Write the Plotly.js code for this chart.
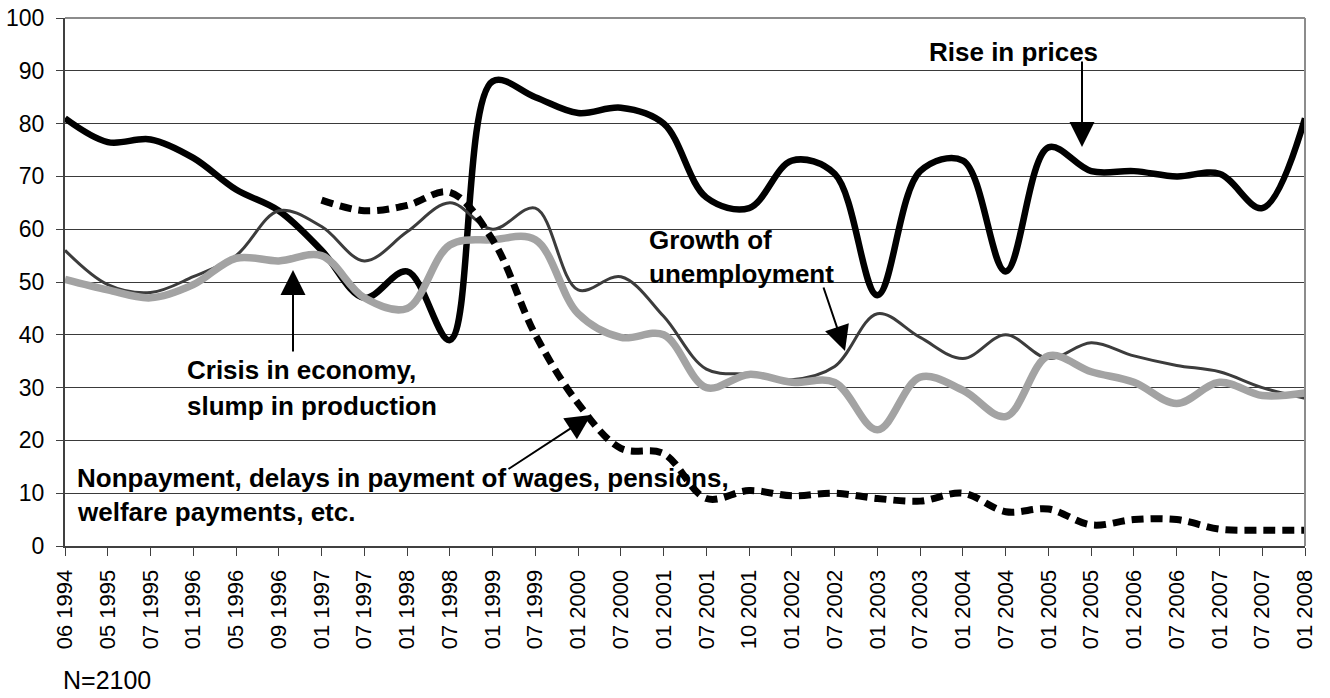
<!DOCTYPE html>
<html><head><meta charset="utf-8">
<script src="https://cdn.plot.ly/plotly-3.0.1.min.js"></script>
<style>html,body{margin:0;padding:0;background:#fff}#chart{width:1330px;height:698px}</style>
</head><body><div id="chart"></div>
<script>
const periods = ["06 1994","05 1995","07 1995","01 1996","05 1996","09 1996","01 1997","07 1997","01 1998","07 1998","01 1999","07 1999","01 2000","07 2000","01 2001","07 2001","10 2001","01 2002","07 2002","01 2003","07 2003","01 2004","07 2004","01 2005","07 2005","01 2006","07 2006","01 2007","07 2007","01 2008"];
const risePrices   = [81,76.5,77,73.5,67.5,63.5,56,47,52,39,88,85,82,83,80,66,64,73,70.5,47.5,71,73,52,75.5,71,71,70,70.5,64,81];
const unemployment = [56,49.5,48,51,55,63.5,60.5,54,59.5,65,60,64,48.5,51,43.5,33.5,32.5,31.5,34,44,39.5,35.5,40,35.5,38.5,36,34.2,33,30,28];
const crisis       = [50.5,48.5,47,49.5,54.5,54,55,47,45,57,58,58,44,39.5,40,30,32.5,31,31,22,32,29.5,24.5,36,33,31,27,31,28.5,29];
const nonpayment   = [null,null,null,null,null,null,65.5,63.5,64.5,67,58,40,27,18.5,17.5,9,10.5,9.5,10,9,8.5,10,6.5,7,4,5,5,3.2,3,3];
const seriesNames = ["Rise in prices","Growth of unemployment","Crisis in economy, slump in production","Nonpayment, delays in payment of wages, pensions, welfare payments, etc."];
const yTicks = [0,10,20,30,40,50,60,70,80,90,100];

const FONT = '"Liberation Sans", Arial, Helvetica, sans-serif';
const L = 65, R = 1305, T = 18, B = 546;
const W = R - L, H = B - T;
const px = x => (x - L) / W;
const py = y => (B - y) / H;
const xi = x => (x - L) / (W / (periods.length - 1));
const yv = y => (B - y) / H * 100;

const traces = [
  {x: periods, y: risePrices, name: seriesNames[0], mode: 'lines', line: {color: '#000000', width: 6.5, shape: 'spline', smoothing: 1}},
  {x: periods, y: unemployment, name: seriesNames[1], mode: 'lines', line: {color: '#3c3c3c', width: 3, shape: 'spline', smoothing: 1}},
  {x: periods, y: crisis, name: seriesNames[2], mode: 'lines', line: {color: '#a3a3a3', width: 7.5, shape: 'spline', smoothing: 1}},
  {x: periods, y: nonpayment, name: seriesNames[3], mode: 'lines', connectgaps: false, line: {color: '#000000', width: 7, dash: '12px,7px', shape: 'spline', smoothing: 1}}
];

function txt(text, x, y, size, bold) {
  return {xref: 'paper', yref: 'paper', x: px(x), y: py(y), xanchor: 'left', yanchor: 'middle',
    text: bold ? '<b>' + text + '</b>' : text, showarrow: false,
    font: {family: FONT, size: size, color: '#000'}};
}
function arrow(x0, y0, x1, y1) {
  return {xref: 'x', yref: 'y', axref: 'x', ayref: 'y', x: xi(x1), y: yv(y1), ax: xi(x0), ay: yv(y0),
    text: '', showarrow: true, arrowhead: 2, arrowsize: 2.5, arrowwidth: 2, arrowcolor: '#000', standoff: 0, startstandoff: 0};
}

const annotations = [
  txt('Rise in prices', 927, 52, 26, true),
  arrow(1082, 60, 1082, 147),
  txt('Growth of', 647, 240, 26, true),
  txt('unemployment', 647, 274, 26, true),
  arrow(823, 286, 845, 351),
  txt('Crisis in economy,', 185, 370, 26, true),
  txt('slump in production', 185, 406, 26, true),
  arrow(293, 353, 293, 270),
  txt('Nonpayment, delays in payment of wages, pensions,', 75, 478, 26, true),
  txt('welfare payments, etc.', 75, 512, 26, true),
  arrow(507, 470, 591, 415),
  txt('N=2100', 61, 680, 25, false)
];

const layout = {
  width: 1330, height: 698,
  margin: {l: L, r: 1330 - R, t: T, b: 698 - B},
  paper_bgcolor: '#fff', plot_bgcolor: '#fff',
  showlegend: false,
  font: {family: FONT, color: '#000'},
  xaxis: {type: 'category', categoryorder: 'array', categoryarray: periods, range: [0, periods.length - 1],
    showgrid: false, zeroline: false, showline: true, linecolor: '#404040', linewidth: 2,
    ticks: 'outside', ticklen: 8, tickwidth: 1, tickcolor: '#404040', tickangle: -90,
    tickfont: {family: FONT, size: 22, color: '#000'}, ticklabelstandoff: 5},
  yaxis: {range: [0, 100], tickvals: yTicks, ticktext: yTicks.map(String),
    showgrid: true, gridcolor: '#3a3a3a', gridwidth: 1, zeroline: false,
    showline: true, linecolor: '#404040', linewidth: 2,
    ticks: 'outside', ticklen: 7, tickwidth: 1, tickcolor: '#404040',
    tickfont: {family: FONT, size: 23, color: '#000'}, ticklabelstandoff: 7},
  shapes: [
    {type: 'line', xref: 'paper', yref: 'paper', x0: 0, x1: 1, y0: 1, y1: 1, line: {color: '#8c8c8c', width: 2}},
    {type: 'line', xref: 'paper', yref: 'paper', x0: 1, x1: 1, y0: 0, y1: 1, line: {color: '#8c8c8c', width: 2}}
  ],
  annotations: annotations
};

Plotly.newPlot('chart', traces, layout, {displayModeBar: false, staticPlot: true});
</script>
</body></html>
